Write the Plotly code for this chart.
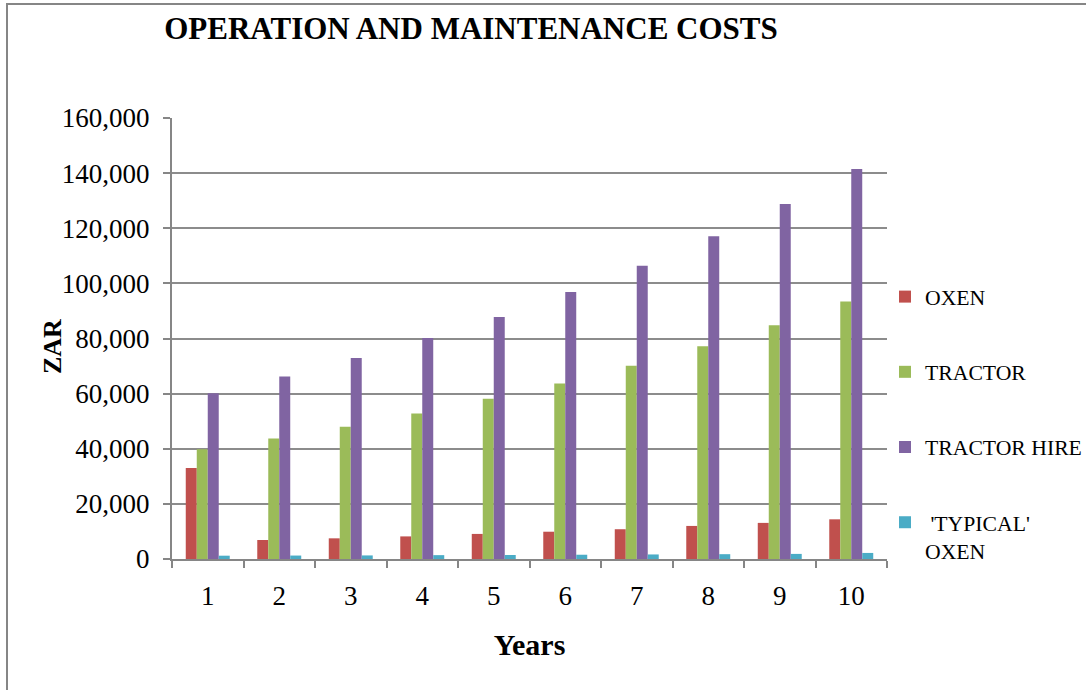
import plotly.graph_objects as go

years = ["1", "2", "3", "4", "5", "6", "7", "8", "9", "10"]
oxen = [33000, 6900, 7500, 8200, 9100, 9900, 10800, 12000, 13100, 14400]
tractor = [39800, 43700, 48000, 52800, 58100, 63700, 70100, 77200, 84800, 93400]
tractor_hire = [60100, 66200, 72900, 80200, 87800, 96900, 106400, 117100, 128800, 141500]
typical_oxen = [1200, 1250, 1300, 1400, 1450, 1550, 1650, 1750, 1850, 2200]

series_names = ["OXEN", "TRACTOR", "TRACTOR HIRE", " 'TYPICAL'<br>OXEN"]
series_values = [oxen, tractor, tractor_hire, typical_oxen]
colors = ["#C0504D", "#9BBB59", "#8064A2", "#4BACC6"]

W, H = 1086, 690
L, R, T, B = 172, 199, 118, 131
pw, ph = W - L - R, H - T - B

def px(x):
    return (x - L) / pw

def py(y):
    return (H - B - y) / ph

fig = go.Figure()
for i, (name, vals, c) in enumerate(zip(series_names, series_values, colors)):
    fig.add_trace(go.Bar(x=years, y=vals, name=name, marker_color=c,
                         marker_line_width=0, legendgroup=str(i)))

font = "Liberation Serif, Times New Roman, serif"
fig.update_layout(
    width=W, height=H,
    margin=dict(l=L, r=R, t=T, b=B, autoexpand=False),
    paper_bgcolor="white", plot_bgcolor="white",
    barmode="group", bargap=0.385, bargroupgap=0,
    font=dict(family=font, color="black"),
    title=dict(text="<b>OPERATION AND MAINTENANCE COSTS</b>", x=471 / W, xanchor="center",
               y=1 - 28 / H, yanchor="middle", font=dict(size=31, family=font)),
    showlegend=True,
    legend=dict(x=px(885), xanchor="left", y=py(276), yanchor="top",
                font=dict(size=21.7, family=font), tracegroupgap=44, valign="top",
                traceorder="grouped", bgcolor="rgba(0,0,0,0)", itemwidth=30),
    xaxis=dict(type="category", showline=True, linecolor="#868686", linewidth=2,
               ticks="outside", tickson="boundaries", ticklen=7, tickcolor="#868686",
               tickwidth=2, tickfont=dict(size=27, family=font), ticklabelstandoff=12,
               title=dict(text="<b>Years</b>", font=dict(size=30, family=font), standoff=24),
               showgrid=False),
    yaxis=dict(range=[0, 160000], dtick=20000, tickformat=",", showline=True,
               linecolor="#868686", linewidth=2, ticks="outside", ticklen=7,
               tickcolor="#868686", tickwidth=2, tickfont=dict(size=27, family=font),
               ticklabelstandoff=8,
               showgrid=True, gridcolor="#8c8c8c", gridwidth=2, zeroline=False),
)

fig.add_annotation(text="<b>ZAR</b>", xref="paper", yref="paper", x=px(52), y=py(347),
                   xanchor="center", yanchor="middle", textangle=-90, showarrow=False,
                   font=dict(size=26, family=font, color="black"))

fig.add_shape(type="rect", xref="paper", yref="paper",
              x0=px(7), x1=px(1095), y0=py(700), y1=py(4),
              line=dict(color="#868686", width=2), fillcolor="rgba(0,0,0,0)", layer="below")

fig.write_html("out.html", post_script="document.body.style.margin='0';",
               config={"displayModeBar": False})
